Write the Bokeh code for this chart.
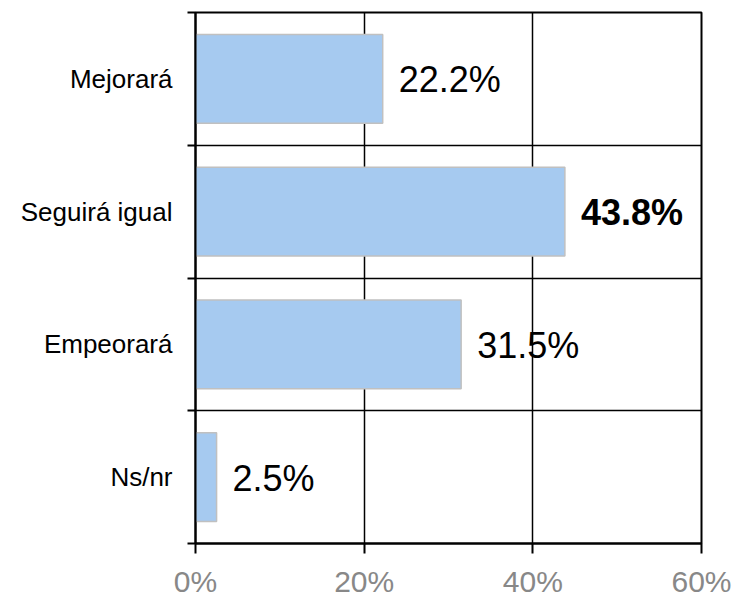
from bokeh.plotting import figure
from bokeh.models import Range1d, FixedTicker, ColumnDataSource, LabelSet
from bokeh.embed import file_html
from bokeh.resources import INLINE
from bokeh.core.properties import value

categories = ["Mejorará", "Seguirá igual", "Empeorará", "Ns/nr"]
values = [22.2, 43.8, 31.5, 2.5]
value_labels = ["22.2%", "43.8%", "31.5%", "2.5%"]
label_weights = ["normal", "bold", "normal", "normal"]
x_ticks = [0, 20, 40, 60]
x_tick_labels = ["0%", "20%", "40%", "60%"]

n = len(categories)
ypos = [n - i - 0.5 for i in range(n)]


def subset(weight, want):
    idx = [i for i in range(n) if (label_weights[i] == weight) == want]
    return ColumnDataSource(dict(y=[ypos[i] for i in idx],
                                 v=[values[i] for i in idx],
                                 lab=[value_labels[i] for i in idx]))


src = ColumnDataSource(dict(y=ypos, v=values))

p = figure(width=735, height=600, output_backend="svg", toolbar_location=None,
           x_range=Range1d(0, 60), y_range=Range1d(0, n),
           min_border_left=195, min_border_right=34, min_border_top=12, min_border_bottom=53)
p.background_fill_color = "white"
p.border_fill_color = "white"
p.outline_line_color = "black"
p.outline_line_width = 2

p.hbar(y="y", right="v", left=0, height=0.67, source=src,
       fill_color="#A6CAF0", line_color="#C0C0C0", line_width=1.5)

for style, want in (("normal", False), ("bold", True)):
    p.add_layout(LabelSet(x="v", y="y", text="lab", source=subset("bold", want),
                          x_offset=16, y_offset=-1,
                          text_font=value("Liberation Sans"), text_font_size="36px",
                          text_font_style=style, text_baseline="middle", text_align="left",
                          text_color="black"))

# grid
p.xgrid.ticker = FixedTicker(ticks=x_ticks)
p.xgrid.grid_line_color = "black"
p.xgrid.grid_line_width = 1.5
p.ygrid.ticker = FixedTicker(ticks=list(range(n + 1)))
p.ygrid.grid_line_color = "black"
p.ygrid.grid_line_width = 1.5

# x axis
xa = p.xaxis[0]
xa.ticker = FixedTicker(ticks=x_ticks)
xa.major_label_overrides = {t: l for t, l in zip(x_ticks, x_tick_labels)}
xa.major_label_text_font = "Liberation Sans"
xa.major_label_text_font_size = "30px"
xa.major_label_text_color = "#888888"
xa.major_label_standoff = 11
xa.major_tick_out = 10
xa.major_tick_in = 0
xa.major_tick_line_color = "black"
xa.major_tick_line_width = 2
xa.minor_tick_line_color = None
xa.axis_line_color = "black"
xa.axis_line_width = 2

# y axis
ya = p.yaxis[0]
ya.ticker = FixedTicker(ticks=ypos, minor_ticks=list(range(n + 1)))
ya.major_label_overrides = {y: c for y, c in zip(ypos, categories)}
ya.major_label_text_font = "Liberation Sans"
ya.major_label_text_font_size = "26px"
ya.major_label_text_color = "black"
ya.major_label_standoff = 15
ya.major_tick_out = 0
ya.major_tick_in = 0
ya.minor_tick_out = 8
ya.minor_tick_in = 0
ya.minor_tick_line_color = "black"
ya.minor_tick_line_width = 2
ya.axis_line_color = "black"
ya.axis_line_width = 2

open("out.html", "w").write(file_html(p, INLINE))
